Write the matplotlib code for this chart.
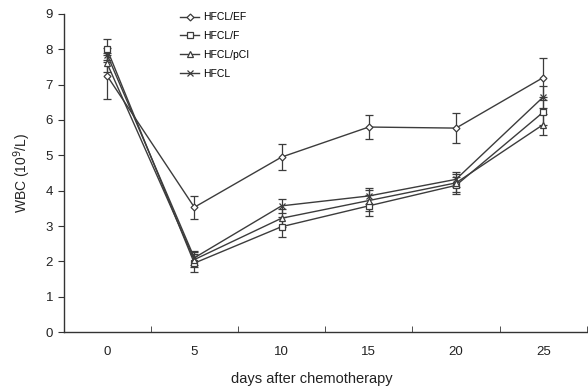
import matplotlib.pyplot as plt
from matplotlib.lines import Line2D
import numpy as np

plt.rcParams['font.family'] = ['Liberation Sans', 'DejaVu Sans']

days = ['0', '5', '10', '15', '20', '25']

ef = [7.25, 3.53, 4.95, 5.80, 5.77, 7.20]
ef_err = [0.65, 0.33, 0.37, 0.33, 0.43, 0.55]

f = [8.00, 1.95, 2.98, 3.57, 4.15, 6.22]
f_err = [0.30, 0.25, 0.28, 0.30, 0.25, 0.35]

pci = [7.60, 2.05, 3.22, 3.72, 4.22, 5.87]
pci_err = [0.25, 0.22, 0.25, 0.30, 0.25, 0.30]

hfcl = [7.85, 2.10, 3.57, 3.85, 4.32, 6.65]
hfcl_err = [0.20, 0.20, 0.20, 0.23, 0.22, 0.30]

series = [
	("HFCL/EF", ef, ef_err, 'D', 3.5),
	("HFCL/F", f, f_err, 's', 5),
	("HFCL/pCI", pci, pci_err, '^', 5),
	("HFCL", hfcl, hfcl_err, 'x', 5),
]

fig = plt.figure(figsize=(5.88, 3.87), dpi=100)
ax = fig.add_axes([0.108, 0.142, 0.89, 0.822])

x = np.arange(len(days))
col = '#3c3c3c'
handles = []
for name, y, err, mk, ms in series:
	ax.errorbar(x, y, yerr=err, color=col, lw=1.0, marker=mk, markersize=ms,
		markerfacecolor='white', markeredgecolor=col, markeredgewidth=0.9,
		ecolor=col, elinewidth=0.9, capsize=3, capthick=0.9)
	handles.append(Line2D([], [], color=col, lw=1.0, marker=mk, markersize=ms,
		markerfacecolor='white', markeredgecolor=col, markeredgewidth=0.9, label=name))

ax.set_xlim(-0.5, 5.5)
ax.set_ylim(0, 9)
ax.set_yticks(np.arange(0, 10, 1))
ax.set_xticks(x)
ax.set_xticklabels(days)
ax.set_xticks(np.arange(0.5, 6, 1), minor=True)
ax.tick_params(axis='x', which='major', length=0, pad=10, labelsize=9.5, labelcolor='#222222')
ax.tick_params(axis='x', which='minor', direction='in', length=4, color='#333333')
ax.tick_params(axis='y', direction='out', length=4, labelsize=9.5, labelcolor='#222222', color='#333333')

for s in ['top', 'right']:
	ax.spines[s].set_visible(False)
for s in ['left', 'bottom']:
	ax.spines[s].set_color('#333333')
	ax.spines[s].set_linewidth(1.0)

ax.set_ylabel('WBC (10$^9$/L)', fontsize=10, color='#222222', labelpad=9)
ax.set_xlabel('days after chemotherapy', fontsize=10.5, color='#222222', labelpad=6)
ax.xaxis.set_label_coords(0.475, -0.125)

ax.legend(handles=handles, loc='upper left', bbox_to_anchor=(0.205, 1.035), frameon=False, fontsize=7.5,
	handlelength=1.8, handletextpad=0.4, labelspacing=0.85)

plt.savefig('out.png', dpi=100)
